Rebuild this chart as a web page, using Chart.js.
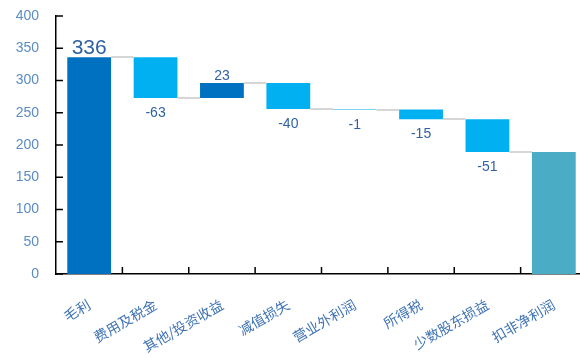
<!DOCTYPE html>
<html>
<head>
<meta charset="utf-8">
<script src="https://cdn.jsdelivr.net/npm/chart.js@4/dist/chart.umd.min.js"></script>
<style>
  html, body { margin: 0; padding: 0; background: #fff; }
  #clip { width: 580px; height: 358px; overflow: hidden; }
  #wrap { width: 587px; height: 358px; }
</style>
</head>
<body>
<div id="clip"><div id="wrap"><canvas id="chart"></canvas></div></div>
<script>
/* data */
const categories = ['毛利', '费用及税金', '其他/投资收益', '减值损失', '营业外利润', '所得税', '少数股东损益', '扣非净利润'];
const values = [336, -63, 23, -40, -1, -15, -51, 189];
const kinds = ['total', 'delta', 'delta', 'delta', 'delta', 'delta', 'delta', 'total'];
const yTicks = [0, 50, 100, 150, 200, 250, 300, 350, 400];

/* floating bars: [low, high] */
let running = 0;
const ranges = [];
const ends = [];
values.forEach((v, i) => {
    if (kinds[i] === 'total') {
        ranges.push([0, v]);
        running = v;
    } else {
        ranges.push([Math.min(running, running + v), Math.max(running, running + v)]);
        running += v;
    }
    ends.push(running);
});

const colors = values.map((v, i) => {
    if (i === 0) return '#0070c0';
    if (kinds[i] === 'total') return '#4bacc6';
    return v >= 0 ? '#0070c0' : '#00b0f0';
});

/* connector lines, inward ticks, value labels */
const waterfallExtras = {
    id: 'waterfallExtras',
    afterDatasetsDraw(chart) {
        const ctx = chart.ctx;
        const meta = chart.getDatasetMeta(0);
        const y = chart.scales.y;
        const x = chart.scales.x;
        ctx.save();

        // connectors
        ctx.strokeStyle = '#d6d6d6';
        ctx.lineWidth = 2;
        for (let i = 0; i < meta.data.length - 1; i++) {
            const a = meta.data[i], b = meta.data[i + 1];
            const py = Math.round(y.getPixelForValue(ends[i]));
            ctx.beginPath();
            ctx.moveTo(a.x + a.width / 2, py);
            ctx.lineTo(b.x - b.width / 2, py);
            ctx.stroke();
        }

        // ticks pointing into the plot
        ctx.strokeStyle = '#000';
        ctx.lineWidth = 1.5;
        const left = chart.chartArea.left, bottom = chart.chartArea.bottom;
        yTicks.forEach(t => {
            const py = y.getPixelForValue(t);
            ctx.beginPath();
            ctx.moveTo(left, py);
            ctx.lineTo(left + 7, py);
            ctx.stroke();
        });
        for (let i = 1; i < categories.length; i++) {
            const px = (x.getPixelForValue(i - 1) + x.getPixelForValue(i)) / 2;
            ctx.beginPath();
            ctx.moveTo(px, bottom);
            ctx.lineTo(px, bottom - 7);
            ctx.stroke();
        }

        // value labels
        ctx.fillStyle = '#2f62a4';
        ctx.textAlign = 'center';
        ctx.textBaseline = 'alphabetic';
        meta.data.forEach((bar, i) => {
            if (i === values.length - 1) return;
            const v = values[i];
            const r = ranges[i];
            if (i === 0) {
                ctx.font = '21px "Liberation Sans", Arial, sans-serif';
                ctx.fillText(String(v), bar.x, y.getPixelForValue(r[1]) - 3);
            } else if (v >= 0) {
                ctx.font = '14px "Liberation Sans", Arial, sans-serif';
                ctx.fillText(String(v), bar.x, y.getPixelForValue(r[1]) - 3);
            } else {
                ctx.font = '14px "Liberation Sans", Arial, sans-serif';
                ctx.fillText(String(v), bar.x, y.getPixelForValue(r[0]) + 19);
            }
        });
        ctx.restore();
    }
};

const chart = new Chart(document.getElementById('chart'), {
    type: 'bar',
    data: {
        labels: categories,
        datasets: [{
            data: ranges,
            backgroundColor: colors,
            borderWidth: 0,
            barPercentage: 0.66,
            categoryPercentage: 1.0
        }]
    },
    options: {
        responsive: true,
        maintainAspectRatio: false,
        animation: false,
        layout: { padding: { top: 16, right: 0, left: 0, bottom: 0 } },
        plugins: {
            legend: { display: false },
            tooltip: { enabled: false }
        },
        scales: {
            x: {
                grid: { display: false, drawTicks: false },
                border: { color: '#000', width: 1.5 },
                ticks: {
                    color: '#3f73b4',
                    font: { family: '"Noto Sans CJK SC", sans-serif', size: 14 },
                    minRotation: 30,
                    maxRotation: 30,
                    padding: 22,
                    autoSkip: false
                },
                afterFit(scale) {
                    scale.height = 84;
                    scale.paddingLeft = 0;
                    scale.paddingRight = 0;
                }
            },
            y: {
                min: 0,
                max: 400,
                grid: { display: false, drawTicks: false },
                border: { color: '#000', width: 1.5 },
                ticks: {
                    stepSize: 50,
                    color: '#5a8cc6',
                    font: { family: '"Liberation Sans", Arial, sans-serif', size: 14 },
                    padding: 17
                },
                afterFit(scale) {
                    scale.width = 56;
                    scale.paddingTop = 0;
                    scale.paddingBottom = 0;
                }
            }
        }
    },
    plugins: [waterfallExtras]
});
</script>
</body>
</html>
